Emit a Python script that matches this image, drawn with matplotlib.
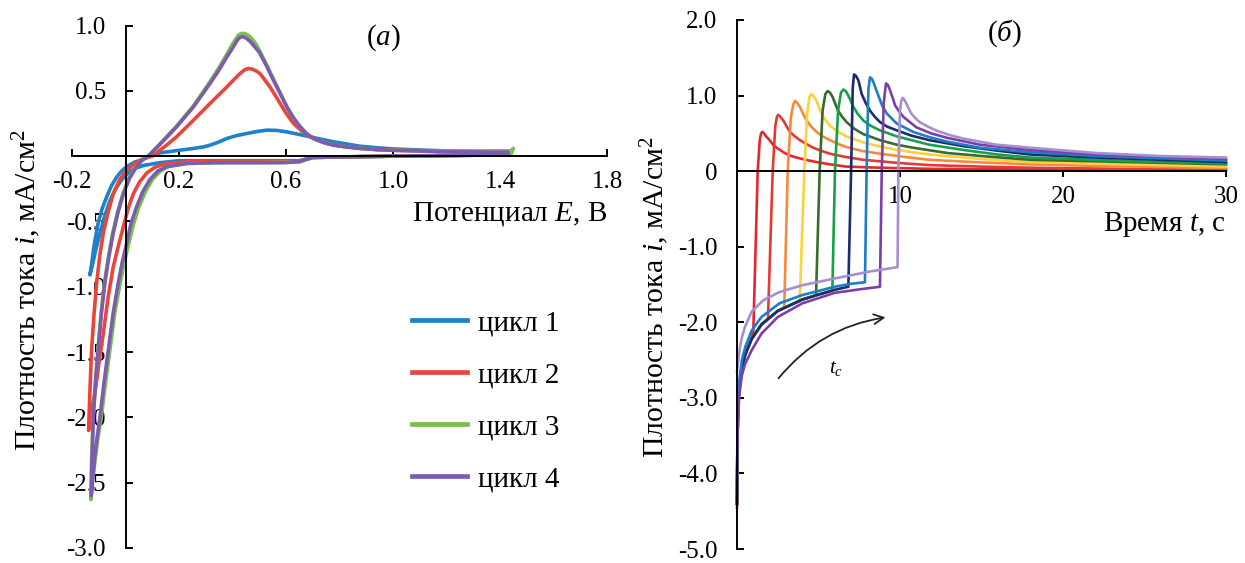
import matplotlib
matplotlib.use('Agg')
import matplotlib.pyplot as plt
from matplotlib.lines import Line2D

plt.rcParams['font.family'] = ['Liberation Serif', 'DejaVu Serif']
plt.rcParams['mathtext.fontset'] = 'custom'
plt.rcParams['mathtext.rm'] = 'Liberation Serif'
plt.rcParams['mathtext.it'] = 'Liberation Serif:italic'
plt.rcParams['axes.unicode_minus'] = False

# ---------------- Panel (a): cyclic voltammograms ----------------
cv_labels = ['цикл 1', 'цикл 2', 'цикл 3', 'цикл 4']
cv_colors = ['#1f82c9', '#e8453c', '#77c04b', '#7d5bae']

cv_E_1 = [0.30, 0.20, 0.129, 0.07, 0.041, 0.012, -0.014, -0.037, -0.058, -0.078, -0.095, -0.11, -0.12, -0.133,
          -0.126, -0.12, -0.112, -0.102, -0.087, -0.07, -0.052, -0.033, -0.015, 0.004, 0.035, 0.066, 0.09,
          0.129, 0.191, 0.254, 0.29, 0.316, 0.345, 0.379, 0.415, 0.453, 0.49, 0.528, 0.565, 0.602,
          0.645, 0.69, 0.735, 0.777, 0.83, 0.876, 0.94, 1.0, 1.1, 1.2, 1.3, 1.43,
          1.43, 1.0, 0.70, 0.65, 0.30]
cv_i_1 = [-0.035, -0.035, -0.05, -0.07, -0.09, -0.125, -0.18, -0.25, -0.34, -0.46, -0.59, -0.71, -0.80, -0.91,
          -0.82, -0.72, -0.62, -0.51, -0.40, -0.31, -0.225, -0.16, -0.115, -0.08, -0.045, -0.025, 0.0,
          0.025, 0.042, 0.059, 0.07, 0.084, 0.105, 0.135, 0.157, 0.173, 0.188, 0.199, 0.197, 0.186,
          0.168, 0.148, 0.128, 0.11, 0.092, 0.076, 0.064, 0.055, 0.047, 0.04, 0.037, 0.035,
          0.01, 0.0, -0.01, -0.035, -0.035]

cv_E_2 = [0.30, 0.254, 0.154, 0.11, 0.079, 0.052, 0.029, 0.01, -0.008, -0.027, -0.046, -0.065, -0.083, -0.097,
          -0.11, -0.12, -0.128, -0.138,
          -0.133, -0.127, -0.118, -0.108, -0.096, -0.083, -0.065, -0.046, -0.022, 0.004, 0.035, 0.066, 0.10,
          0.129, 0.16, 0.191, 0.254, 0.316, 0.379, 0.405, 0.428, 0.445, 0.459, 0.475, 0.49, 0.503, 0.52,
          0.54, 0.56, 0.578, 0.60, 0.628, 0.66, 0.69, 0.72, 0.753, 0.81, 0.877, 0.94,
          1.0, 1.1, 1.2, 1.3, 1.43, 1.43, 1.0, 0.70, 0.65, 0.30]
cv_i_2 = [-0.04, -0.04, -0.056, -0.085, -0.13, -0.2, -0.29, -0.4, -0.54, -0.69, -0.85, -1.08, -1.36, -1.55,
          -1.75, -1.88, -2.0, -2.1,
          -1.8, -1.49, -1.22, -0.97, -0.76, -0.59, -0.43, -0.29, -0.18, -0.11, -0.055, -0.02, 0.0,
          0.045, 0.095, 0.148, 0.275, 0.403, 0.53, 0.585, 0.632, 0.66, 0.671, 0.665, 0.65, 0.632, 0.585,
          0.53, 0.465, 0.403, 0.33, 0.25, 0.19, 0.148, 0.12, 0.097, 0.075, 0.059, 0.05,
          0.045, 0.04, 0.035, 0.032, 0.03, 0.01, 0.0, -0.01, -0.04, -0.04]

cv_E_3 = [0.36, 0.23, 0.16, 0.13, 0.10, 0.075, 0.05, 0.03, 0.012, -0.004, -0.02, -0.04, -0.058, -0.075, -0.09,
          -0.103, -0.112, -0.122, -0.13,
          -0.127, -0.121, -0.113, -0.104, -0.092, -0.079, -0.064, -0.048, -0.03, -0.01, 0.012, 0.04, 0.062, 0.085,
          0.129, 0.191, 0.254, 0.316, 0.35, 0.379, 0.395, 0.41, 0.422, 0.434, 0.447, 0.462, 0.478, 0.49, 0.503,
          0.525, 0.553, 0.578, 0.603, 0.628, 0.653, 0.678, 0.703, 0.74, 0.777, 0.83,
          0.877, 0.94, 1.0, 1.1, 1.2, 1.3, 1.44, 1.45, 1.44, 1.0, 0.70, 0.65, 0.50, 0.36]
cv_i_3 = [-0.05, -0.056, -0.08, -0.115, -0.18, -0.27, -0.39, -0.52, -0.67, -0.81, -0.97, -1.2, -1.48, -1.74, -1.99,
          -2.16, -2.3, -2.47, -2.63,
          -2.35, -2.0, -1.75, -1.5, -1.22, -0.97, -0.77, -0.59, -0.43, -0.29, -0.17, -0.08, -0.03, 0.0,
          0.095, 0.23, 0.385, 0.57, 0.68, 0.78, 0.84, 0.89, 0.925, 0.94, 0.938, 0.92, 0.885, 0.85, 0.80,
          0.71, 0.59, 0.485, 0.38, 0.295, 0.225, 0.17, 0.135, 0.105, 0.085, 0.07,
          0.06, 0.05, 0.045, 0.042, 0.04, 0.04, 0.04, 0.06, 0.01, 0.0, -0.01, -0.045, -0.05, -0.05]

cv_E_4 = [0.32, 0.23, 0.154, 0.12, 0.091, 0.065, 0.041, 0.02, 0.004, -0.012, -0.027, -0.046, -0.064, -0.08, -0.095,
          -0.106, -0.115, -0.122, -0.128,
          -0.125, -0.12, -0.112, -0.102, -0.09, -0.077, -0.062, -0.046, -0.028, -0.008, 0.015, 0.041, 0.063, 0.085,
          0.129, 0.191, 0.254, 0.316, 0.35, 0.379, 0.395, 0.41, 0.42, 0.43, 0.44, 0.45, 0.465, 0.48, 0.50,
          0.525, 0.553, 0.578, 0.603, 0.628, 0.653, 0.678, 0.703, 0.74, 0.777, 0.83,
          0.877, 0.94, 1.0, 1.1, 1.2, 1.3, 1.43, 1.43, 1.0, 0.70, 0.65, 0.60, 0.50, 0.32]
cv_i_4 = [-0.05, -0.056, -0.08, -0.115, -0.18, -0.27, -0.39, -0.52, -0.67, -0.81, -0.97, -1.2, -1.48, -1.73, -1.99,
          -2.15, -2.3, -2.45, -2.6,
          -2.3, -1.99, -1.73, -1.48, -1.2, -0.97, -0.77, -0.59, -0.43, -0.29, -0.17, -0.08, -0.03, 0.0,
          0.09, 0.224, 0.377, 0.556, 0.66, 0.76, 0.81, 0.86, 0.893, 0.912, 0.914, 0.905, 0.88, 0.845, 0.795,
          0.70, 0.581, 0.48, 0.377, 0.29, 0.224, 0.17, 0.135, 0.105, 0.084, 0.07,
          0.059, 0.05, 0.045, 0.04, 0.035, 0.032, 0.03, 0.01, 0.0, -0.01, -0.04, -0.05, -0.05, -0.05]

cv_xticks = [-0.2, 0.2, 0.6, 1.0, 1.4, 1.8]
cv_xticklabels = ['-0.2', '0.2', '0.6', '1.0', '1.4', '1.8']
cv_yticks = [1.0, 0.5, 0.0, -0.5, -1.0, -1.5, -2.0, -2.5, -3.0]
cv_yticklabels = ['1.0', '0.5', '', '-0.5', '-1.0', '-1.5', '-2.0', '-2.5', '-3.0']

# ---------------- Panel (б): chronoamperograms ----------------
ca_colors = ['#e8262b', '#e33a33', '#f58a3c', '#fdd13d', '#3a6b2e',
             '#17a04a', '#1c2c6e', '#1c7fc6', '#7b3fa6', '#a68fd0']

ca_t_1 = [0.0, 0.02, 0.05, 0.1, 0.15, 0.3, 0.5, 0.8, 1.0, 1.27, 1.4, 1.48, 1.55, 1.65, 1.75, 2.0, 2.25, 2.5, 2.85,
          3.2, 3.65, 4.2, 4.9, 5.7, 6.7, 8.8, 12, 16, 20, 25, 30]
ca_i_1 = [-4.45, -3.8, -3.3, -3.0, -2.85, -2.6, -2.43, -2.26, -2.12, 0.0, 0.42, 0.5, 0.52, 0.5, 0.47, 0.41, 0.34, 0.3, 0.25,
          0.21, 0.18, 0.15, 0.12, 0.09, 0.06, 0.045, 0.03, 0.025, 0.02, 0.015, 0.01]

ca_t_2 = [0.0, 0.02, 0.05, 0.1, 0.15, 0.3, 0.5, 0.9, 1.5, 1.9, 2.19, 2.35, 2.45, 2.53, 2.65, 2.84, 3.05, 3.25, 3.55, 3.86,
          4.25, 4.68, 5.15, 5.71, 6.6, 7.75, 9.8, 11.8, 15, 18, 22, 26, 30]
ca_i_2 = [-4.4, -3.75, -3.3, -3.0, -2.85, -2.6, -2.43, -2.22, -2.03, -1.95, 0.0, 0.6, 0.72, 0.745, 0.72, 0.67, 0.59, 0.52, 0.46, 0.41,
          0.36, 0.31, 0.27, 0.23, 0.19, 0.15, 0.11, 0.08, 0.06, 0.045, 0.035, 0.025, 0.02]

ca_t_3 = [0.0, 0.02, 0.05, 0.1, 0.15, 0.3, 0.5, 0.9, 1.5, 2.5, 2.9, 3.11, 3.3, 3.45, 3.56, 3.7, 3.86, 4.05, 4.27, 4.55,
          4.88, 5.25, 5.7, 6.2, 6.7, 7.6, 8.8, 10.2, 11.8, 15, 18, 22, 26, 30]
ca_i_3 = [-4.4, -3.75, -3.3, -3.0, -2.85, -2.6, -2.43, -2.22, -2.03, -1.85, -1.8, 0.0, 0.7, 0.88, 0.93, 0.9, 0.85, 0.76, 0.67, 0.59,
          0.52, 0.46, 0.41, 0.36, 0.32, 0.27, 0.23, 0.19, 0.15, 0.115, 0.09, 0.07, 0.055, 0.04]

ca_t_4 = [0.0, 0.02, 0.05, 0.1, 0.15, 0.3, 0.5, 0.9, 1.5, 2.5, 3.5, 3.85, 4.13, 4.3, 4.43, 4.54, 4.68, 4.85, 5.0,
          5.2, 5.45, 5.7, 6.2, 6.7, 7.75, 8.7, 9.8, 11.8, 15, 18, 22, 26, 30]
ca_i_4 = [-4.4, -3.75, -3.3, -3.0, -2.85, -2.6, -2.43, -2.22, -2.03, -1.85, -1.75, -1.72, 0.0, 0.75, 0.97, 1.02, 1.0, 0.94, 0.86,
          0.76, 0.67, 0.6, 0.52, 0.46, 0.38, 0.33, 0.28, 0.22, 0.16, 0.12, 0.1, 0.08, 0.06]

ca_t_5 = [0.0, 0.02, 0.05, 0.1, 0.15, 0.3, 0.5, 0.9, 1.5, 2.5, 4.0, 4.85, 5.07, 5.25, 5.42, 5.56, 5.7, 5.87, 6.03,
          6.2, 6.45, 6.72, 7.2, 7.75, 8.77, 9.8, 10.8, 12.9, 15, 18, 22, 26, 30]
ca_i_5 = [-4.4, -3.75, -3.3, -3.0, -2.85, -2.6, -2.43, -2.22, -2.03, -1.85, -1.7, -1.64, 0.0, 0.8, 1.02, 1.06, 1.04, 0.98, 0.89,
          0.8, 0.72, 0.65, 0.56, 0.49, 0.41, 0.35, 0.31, 0.24, 0.2, 0.15, 0.13, 0.11, 0.09]

ca_t_6 = [0.0, 0.02, 0.05, 0.1, 0.15, 0.3, 0.5, 0.9, 1.5, 2.5, 4.0, 5.0, 5.85, 6.01, 6.2, 6.38, 6.52, 6.67,
          6.83, 6.98, 7.14, 7.4, 7.75, 8.2, 8.77, 9.8, 11.8, 13.9, 16, 18, 22, 26, 30]
ca_i_6 = [-4.4, -3.75, -3.3, -3.0, -2.85, -2.6, -2.43, -2.22, -2.03, -1.85, -1.7, -1.63, -1.58, 0.0, 0.8, 1.04, 1.08, 1.06,
          1.0, 0.93, 0.85, 0.76, 0.67, 0.6, 0.54, 0.46, 0.35, 0.28, 0.22, 0.18, 0.15, 0.12, 0.1]

ca_t_7 = [0.0, 0.02, 0.05, 0.1, 0.15, 0.3, 0.5, 0.9, 1.5, 2.5, 4.0, 6.0, 6.83, 7.0, 7.1, 7.18, 7.3, 7.45,
          7.65, 7.9, 8.16, 8.45, 8.77, 9.2, 9.8, 10.7, 11.8, 13.9, 16, 18, 22, 26, 30]
ca_i_7 = [-4.4, -3.75, -3.3, -3.0, -2.85, -2.6, -2.43, -2.22, -2.03, -1.85, -1.7, -1.57, -1.53, 0.0, 1.1, 1.28, 1.26, 1.2,
          1.02, 0.9, 0.8, 0.72, 0.65, 0.59, 0.54, 0.47, 0.41, 0.33, 0.27, 0.22, 0.18, 0.15, 0.12]

ca_t_8 = [0.0, 0.02, 0.05, 0.1, 0.15, 0.3, 0.5, 0.9, 1.5, 2.6, 4.0, 6.0, 7.0, 7.85, 7.95, 8.06, 8.16, 8.28,
          8.4, 8.53, 8.67, 8.9, 9.2, 9.8, 10.8, 11.8, 12.9, 14.9, 18, 22, 26, 30]
ca_i_8 = [-4.2, -3.6, -3.2, -2.9, -2.75, -2.5, -2.33, -2.11, -1.93, -1.75, -1.64, -1.53, -1.49, -1.47, 0.0, 1.08, 1.24, 1.22,
          1.16, 1.08, 1.0, 0.87, 0.76, 0.63, 0.52, 0.45, 0.39, 0.31, 0.25, 0.2, 0.17, 0.14]

ca_t_9 = [0.0, 0.02, 0.05, 0.1, 0.15, 0.3, 0.5, 0.9, 1.5, 2.5, 4.0, 6.0, 7.65, 8.77, 8.88, 9.0,
          9.14, 9.26, 9.39, 9.55, 9.7, 9.95, 10.2, 10.6, 11.0, 11.9, 12.9, 14.9, 18, 22, 26, 30]
ca_i_9 = [-4.4, -3.85, -3.4, -3.1, -2.95, -2.7, -2.55, -2.37, -2.15, -1.93, -1.75, -1.61, -1.56, -1.53, 0.0, 0.9,
          1.16, 1.14, 1.07, 0.97, 0.87, 0.79, 0.72, 0.65, 0.58, 0.5, 0.44, 0.35, 0.28, 0.22, 0.19, 0.16]

ca_t_10 = [0.0, 0.08, 0.18, 0.3, 0.49, 0.9, 1.6, 2.6, 4.0, 6.0, 8.1, 9.85, 9.9, 10.0, 10.08, 10.17,
           10.28, 10.4, 10.55, 10.7, 10.95, 11.2, 11.7, 12.2, 13.0, 13.9, 15.9, 18, 22, 26, 30]
ca_i_10 = [-2.65, -2.5, -2.33, -2.2, -2.06, -1.86, -1.71, -1.6, -1.51, -1.42, -1.33, -1.27, 0.0, 0.8, 0.93, 0.97,
           0.94, 0.89, 0.82, 0.76, 0.7, 0.65, 0.59, 0.54, 0.48, 0.43, 0.35, 0.31, 0.24, 0.2, 0.18]

ca_yticks = [2.0, 1.0, 0.0, -1.0, -2.0, -3.0, -4.0, -5.0]
ca_yticklabels = ['2.0', '1.0', '0', '-1.0', '-2.0', '-3.0', '-4.0', '-5.0']
ca_xticks = [10, 20, 30]
ca_xticklabels = ['10', '20', '30']

# ---------------- Figure ----------------
W, H = 1245, 563
fig = plt.figure(figsize=(W / 100, H / 100), dpi=100)

TICK_FS = 18
LAB_FS = 21
YLAB_FS = 21.5

def style_axes(ax):
    for s in ['top', 'right']:
        ax.spines[s].set_visible(False)
    ax.spines['left'].set_position(('data', 0))
    ax.spines['bottom'].set_position(('data', 0))
    for s in ['left', 'bottom']:
        ax.spines[s].set_linewidth(1.4)
        ax.spines[s].set_color('black')
    ax.patch.set_alpha(0)

# Panel (a)
axL = fig.add_axes([72 / W, (H - 548) / H, 535 / W, 522.5 / H])
axL.set_xlim(-0.2, 1.8)
axL.set_ylim(-3.0, 1.0)
style_axes(axL)
axL.set_xticks(cv_xticks)
axL.set_xticklabels(cv_xticklabels)
axL.set_yticks(cv_yticks)
axL.set_yticklabels(cv_yticklabels)
axL.tick_params(axis='y', direction='in', length=5, width=1.4, pad=14, labelsize=TICK_FS)
axL.tick_params(axis='x', direction='in', length=5, width=1.4, pad=11, labelsize=TICK_FS)

cv_E = [cv_E_1, cv_E_2, cv_E_3, cv_E_4]
cv_i = [cv_i_1, cv_i_2, cv_i_3, cv_i_4]
for E, cur, c in zip(cv_E, cv_i, cv_colors):
    axL.plot(E, cur, color=c, lw=2.6, solid_capstyle='round', solid_joinstyle='round')

axL.text(1.8, -0.44, 'Потенциал $E$, В', ha='right', va='center', fontsize=LAB_FS)
axL.text(0.963, 0.91, '($a$)', ha='center', va='center', fontsize=LAB_FS)

handles = [Line2D([0], [0], color=c, lw=3.4) for c in cv_colors]
fig.legend(handles, cv_labels, loc='upper left',
           bbox_to_anchor=(412 / W, 1 - 310 / H), bbox_transform=fig.transFigure,
           frameon=False, fontsize=LAB_FS, handlelength=1.9, handletextpad=0.36,
           labelspacing=0.88, borderpad=0, borderaxespad=0)

fig.text(27 / W, 1 - 290 / H, 'Плотность тока $i$, мА/см$^2$', rotation=90,
         ha='center', va='center', fontsize=YLAB_FS)

# Panel (б)
axR = fig.add_axes([737 / W, (H - 549) / H, 489 / W, 529 / H])
axR.set_xlim(0, 30)
axR.set_ylim(-5.0, 2.0)
style_axes(axR)
axR.set_xticks(ca_xticks)
axR.set_xticklabels(ca_xticklabels)
axR.set_yticks(ca_yticks)
axR.set_yticklabels(ca_yticklabels)
axR.tick_params(axis='y', direction='in', length=5, width=1.4, pad=14, labelsize=TICK_FS)
axR.tick_params(axis='x', direction='out', length=4, width=1.4, pad=7, labelsize=TICK_FS)

ca_t = [ca_t_1, ca_t_2, ca_t_3, ca_t_4, ca_t_5, ca_t_6, ca_t_7, ca_t_8, ca_t_9, ca_t_10]
ca_i = [ca_i_1, ca_i_2, ca_i_3, ca_i_4, ca_i_5, ca_i_6, ca_i_7, ca_i_8, ca_i_9, ca_i_10]
for t, cur, c in zip(ca_t, ca_i, ca_colors):
    axR.plot(t, cur, color=c, lw=1.9, solid_joinstyle='round', clip_on=False)

axR.text(30, -0.70, 'Время $t$, с', ha='right', va='center', fontsize=LAB_FS)
axR.text(16.4, 1.83, '($б$)', ha='center', va='center', fontsize=LAB_FS)
axR.annotate('', xy=(9.28, -1.93), xytext=(2.44, -2.77),
             arrowprops=dict(arrowstyle='->,head_length=0.7,head_width=0.35',
                             color='#222222', lw=1.3,
                             connectionstyle='arc3,rad=-0.2'))
axR.text(6.1, -2.61, '$t_c$', ha='center', va='center', fontsize=15)

fig.text(655 / W, 1 - 297 / H, 'Плотность тока $i$, мА/см$^2$', rotation=90,
         ha='center', va='center', fontsize=YLAB_FS)

fig.savefig('out.png', dpi=100)
